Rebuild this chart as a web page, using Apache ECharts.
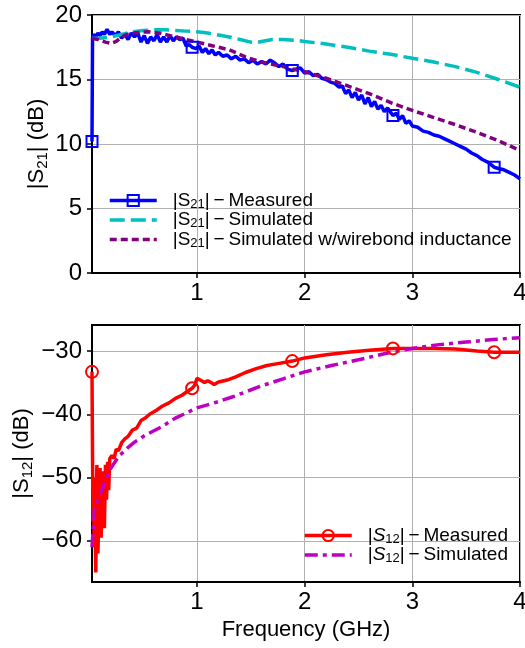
<!DOCTYPE html>
<html><head><meta charset="utf-8">
<script src="https://cdn.jsdelivr.net/npm/echarts@6/dist/echarts.min.js"></script>
<style>html,body{margin:0;padding:0;background:#fff}#c{width:525px;height:648px}</style>
</head><body><div id="c"></div>
<script>
// ---- tick values / labels ----
const xTicks = [1, 2, 3, 4];
const s21Ticks = [0, 5, 10, 15, 20];
const s12Ticks = [-60, -50, -40, -30];
const markerFreqs = [0.025, 0.955, 1.885, 2.82, 3.76];

// ---- |S21| measured [GHz, dB] ----
const s21Measured = [
[0.025,10.2],[0.03,18.2],[0.04,18.5],[0.06,18.3],[0.08,18.6],[0.10,18.4],[0.12,18.7],[0.14,18.5],
[0.165,18.9],[0.19,18.5],[0.21,18.7],[0.24,18.4],[0.27,18.7],[0.30,18.2],[0.33,18.5],[0.36,18.1],
[0.39,18.6],[0.42,18.3],[0.45,18.6],[0.48,17.9],[0.51,18.4],[0.54,17.8],[0.57,18.3],[0.60,18.0],
[0.63,18.5],[0.66,17.9],[0.69,18.3],[0.72,17.9],[0.75,18.4],[0.78,18.0],[0.81,18.3],[0.84,18.1],
[0.87,18.2],[0.90,17.6],[0.93,17.7],[0.955,17.5],[0.99,17.4],[1.02,17.6],[1.05,17.1],[1.08,17.4],
[1.11,17.0],[1.14,17.3],[1.17,16.9],[1.20,17.1],[1.24,16.8],[1.28,16.9],[1.32,16.6],[1.36,16.8],
[1.40,16.5],[1.44,16.6],[1.48,16.3],[1.52,16.5],[1.56,16.2],[1.60,16.4],[1.64,16.2],[1.68,16.5],
[1.72,16.3],[1.76,16.0],[1.80,16.2],[1.84,15.8],[1.885,15.7],[1.92,15.8],[1.96,15.9],[2.00,15.5],
[2.04,15.6],[2.08,15.3],[2.12,15.4],[2.16,15.1],[2.20,15.0],[2.24,14.8],[2.28,14.7],[2.32,14.4],
[2.35,14.5],[2.38,13.9],[2.41,14.2],[2.44,13.6],[2.47,14.0],[2.50,13.4],[2.53,13.8],[2.56,13.1],
[2.59,13.6],[2.62,12.9],[2.65,13.3],[2.68,12.7],[2.71,13.0],[2.74,12.5],[2.77,12.8],[2.82,12.2],
[2.85,12.4],[2.88,11.9],[2.91,12.2],[2.94,11.6],[2.97,11.8],[3.00,11.4],[3.05,11.3],[3.10,11.0],
[3.15,10.9],[3.20,10.7],[3.25,10.6],[3.30,10.4],[3.35,10.2],[3.40,10.0],[3.45,9.8],[3.50,9.6],
[3.55,9.3],[3.60,9.1],[3.65,8.8],[3.70,8.6],[3.76,8.2],[3.80,8.1],[3.85,8.0],[3.90,7.8],
[3.95,7.6],[4.00,7.3]
];
// ---- |S21| simulated ----
const s21Simulated = [
[0.025,18.2],[0.1,18.2],[0.2,18.3],[0.3,18.5],[0.4,18.7],[0.5,18.8],[0.6,18.85],[0.7,18.85],
[0.8,18.8],[0.9,18.75],[1.0,18.7],[1.1,18.6],[1.2,18.45],[1.3,18.3],[1.4,18.1],[1.5,17.9],
[1.55,17.85],[1.6,17.95],[1.7,18.1],[1.8,18.1],[1.9,18.05],[2.0,17.95],[2.2,17.75],[2.4,17.5],
[2.6,17.2],[2.8,16.95],[3.0,16.65],[3.2,16.35],[3.4,16.0],[3.6,15.55],[3.8,15.0],[4.0,14.4]
];
// ---- |S21| simulated w/ wirebond inductance ----
const s21Wirebond = [
[0.025,18.2],[0.08,18.1],[0.15,17.9],[0.2,17.8],[0.25,17.95],[0.3,18.3],[0.35,18.5],[0.45,18.65],
[0.55,18.7],[0.65,18.6],[0.75,18.4],[0.85,18.2],[1.0,17.9],[1.15,17.6],[1.3,17.3],[1.45,16.75],
[1.6,16.35],[1.8,16.0],[2.0,15.6],[2.2,15.1],[2.4,14.5],[2.6,13.9],[2.8,13.2],[3.0,12.6],
[3.2,12.05],[3.4,11.5],[3.6,10.9],[3.8,10.25],[4.0,9.5]
];
// ---- |S12| measured ----
const s12Measured = [
[0.025,-33.3],[0.03,-47],[0.035,-57],[0.04,-50],[0.045,-61],[0.05,-53],[0.06,-65],[0.07,-48],
[0.08,-62],[0.09,-55],[0.10,-48.5],[0.11,-59.5],[0.12,-52],[0.13,-49],[0.14,-58],[0.15,-48],
[0.16,-53.5],[0.17,-47.5],[0.18,-52],[0.19,-47],[0.21,-46.5],[0.23,-47],[0.25,-45.5],[0.27,-45.8],
[0.30,-44.5],[0.33,-43.9],[0.36,-43.5],[0.40,-42.5],[0.44,-42.2],[0.48,-41],[0.52,-40.6],[0.56,-40.0],
[0.62,-39.4],[0.68,-38.7],[0.74,-38.2],[0.80,-37.5],[0.86,-37.0],[0.91,-36.4],[0.955,-35.9],[0.98,-35.4],
[1.0,-34.3],[1.03,-34.6],[1.07,-35.0],[1.10,-34.7],[1.13,-35.0],[1.16,-35.3],[1.20,-34.9],[1.28,-34.6],
[1.36,-34.1],[1.45,-33.4],[1.55,-32.8],[1.65,-32.3],[1.75,-32.0],[1.885,-31.6],[2.0,-31.1],[2.2,-30.6],
[2.4,-30.2],[2.6,-29.9],[2.82,-29.6],[3.0,-29.6],[3.2,-29.6],[3.4,-29.7],[3.6,-30.0],[3.76,-30.2],
[3.9,-30.2],[4.0,-30.2]
];
// ---- |S12| simulated ----
const s12Simulated = [
[0.025,-61],[0.05,-54.6],[0.08,-53.5],[0.11,-52.2],[0.145,-50.7],[0.19,-48.8],[0.27,-46.7],[0.35,-45.4],
[0.42,-44.4],[0.52,-43.3],[0.67,-42],[0.8,-40.6],[1.0,-39.0],[1.2,-38],[1.34,-37.2],[1.585,-35.6],
[1.8,-34.4],[2.0,-33.3],[2.25,-32.3],[2.5,-31.4],[2.75,-30.4],[3.0,-29.6],[3.25,-29.0],[3.5,-28.6],
[3.75,-28.2],[4.0,-27.9]
];

const FONT = 'Liberation Sans';
const names = {
  m21: '|S21| − Measured', s21: '|S21| − Simulated', w21: '|S21| − Simulated w/wirebond inductance',
  m12: '|S12| − Measured', s12: '|S12| − Simulated'
};
const legendRich = {
  p: {width: 11},
  n: {fontFamily: FONT, fontSize: 19, lineHeight: 20, color: '#000'},
  i: {fontFamily: FONT, fontSize: 19, lineHeight: 20, color: '#000', fontStyle: 'italic'},
  s: {fontFamily: FONT, fontSize: 13, lineHeight: 10, verticalAlign: 'bottom', color: '#000'}
};
function legendFmt(name) {
  if (name === names.m21) return '{p|}{n||S}{s|21}{n||\u2009−\u2009Measured}';
  if (name === names.s21) return '{p|}{n||S}{s|21}{n||\u2009−\u2009Simulated}';
  if (name === names.w21) return '{p|}{n||S}{s|21}{n||\u2009−\u2009Simulated w/wirebond inductance}';
  if (name === names.m12) return '{p|}{n||}{i|S}{s|12}{n||\u2009−\u2009Measured}';
  return '{p|}{n||}{i|S}{s|12}{n||\u2009−\u2009Simulated}';
}
function withMarkers(data) {
  return data.map(d => markerFreqs.includes(d[0]) ? {value: d} : {value: d, symbol: 'none'});
}
const minus = v => String(v).replace('-', '\u2212');
const axisLineStyle = {color: '#000', width: 2};
const gridLine = {show: true, lineStyle: {color: '#b0b0b0', width: 1}};
function xAxis(gi, withName) {
  const ax = {
    type: 'value', gridIndex: gi, min: 0.025, max: 4,
    axisLine: {show: true, onZero: false, lineStyle: axisLineStyle},
    axisTick: {show: true, customValues: xTicks, length: 5, lineStyle: {color: '#000', width: 1.5}},
    axisLabel: {customValues: xTicks, fontSize: 24, fontFamily: FONT, color: '#000', margin: 8, showMaxLabel: true, showMinLabel: true},
    splitLine: gridLine
  };
  if (withName) {
    ax.name = 'Frequency (GHz)'; ax.nameLocation = 'middle'; ax.nameGap = 37; ax.nameMoveOverlap = false;
    ax.nameTextStyle = {fontFamily: FONT, fontSize: 22, color: '#000'};
  }
  return ax;
}
const yNameRich = {
  n: {fontFamily: FONT, fontSize: 22, lineHeight: 26, color: '#000'},
  s: {fontFamily: FONT, fontSize: 15, lineHeight: 14, verticalAlign: 'bottom', color: '#000'}
};
const option = {
  animation: false,
  backgroundColor: '#fff',
  grid: [
    {left: 92, top: 15, width: 428, height: 258, show: true, borderColor: '#000', borderWidth: 2, backgroundColor: 'transparent', outerBoundsMode: 'none', containLabel: false},
    {left: 92, top: 325, width: 428, height: 257, show: true, borderColor: '#000', borderWidth: 2, backgroundColor: 'transparent', outerBoundsMode: 'none', containLabel: false}
  ],
  xAxis: [xAxis(0, false), xAxis(1, true)],
  yAxis: [
    {type: 'value', gridIndex: 0, min: 0, max: 20, interval: 5,
     axisLine: {show: true, onZero: false, lineStyle: axisLineStyle},
     axisTick: {show: true, length: 5, lineStyle: {color: '#000', width: 1.5}},
     axisLabel: {fontSize: 24, fontFamily: FONT, color: '#000', margin: 10, showMaxLabel: true, showMinLabel: true},
     splitLine: gridLine,
     name: '{n||S}{s|21}{n|| (dB)}', nameLocation: 'middle', nameGap: 42, nameRotate: 90, nameMoveOverlap: false,
     nameTextStyle: {rich: yNameRich, fontFamily: FONT, fontSize: 22, color: '#000'}},
    {type: 'value', gridIndex: 1, min: -66.5, max: -25.9,
     axisLine: {show: true, onZero: false, lineStyle: axisLineStyle},
     axisTick: {show: true, customValues: s12Ticks, length: 5, lineStyle: {color: '#000', width: 1.5}},
     axisLabel: {customValues: s12Ticks, formatter: minus, fontSize: 24, fontFamily: FONT, color: '#000', margin: 10},
     splitLine: gridLine,
     name: '{n||S}{s|12}{n|| (dB)}', nameLocation: 'middle', nameGap: 57, nameRotate: 90, nameMoveOverlap: false,
     nameTextStyle: {rich: yNameRich, fontFamily: FONT, fontSize: 22, color: '#000'}}
  ],
  legend: [
    {left: 108, top: 191, orient: 'vertical', itemWidth: 47, itemHeight: 14, itemGap: 0, padding: 0,
     formatter: legendFmt, textStyle: {rich: legendRich, fontSize: 19, fontFamily: FONT, color: '#000'},
     selectedMode: false,
     data: [
       {name: names.m21, itemStyle: {color: 'rgba(0,0,0,0)', borderColor: '#0000ff', borderWidth: 2}, lineStyle: {color: '#0000ff', width: 3.5, type: 'solid'}},
       {name: names.s21, itemStyle: {color: 'rgba(0,0,0,0)', borderWidth: 0}, lineStyle: {color: '#00bfbf', width: 3.5, type: [15, 6]}},
       {name: names.w21, itemStyle: {color: 'rgba(0,0,0,0)', borderWidth: 0}, lineStyle: {color: '#800080', width: 3.5, type: [7, 4]}}
     ]},
    {left: 303, top: 526, orient: 'vertical', itemWidth: 47, itemHeight: 14, itemGap: 0, padding: 0,
     formatter: legendFmt, textStyle: {rich: legendRich, fontSize: 19, fontFamily: FONT, color: '#000'},
     selectedMode: false,
     data: [
       {name: names.m12, itemStyle: {color: 'rgba(0,0,0,0)', borderColor: '#ff0000', borderWidth: 2}, lineStyle: {color: '#ff0000', width: 3.5, type: 'solid'}},
       {name: names.s12, itemStyle: {color: 'rgba(0,0,0,0)', borderWidth: 0}, lineStyle: {color: '#bf00bf', width: 3.5, type: [13, 5, 4, 5]}}
     ]}
  ],
  series: [
    {name: names.m21, type: 'line', xAxisIndex: 0, yAxisIndex: 0, data: withMarkers(s21Measured),
     symbol: 'rect', symbolSize: 11, showAllSymbol: true,
     itemStyle: {color: 'rgba(0,0,0,0)', borderColor: '#0000ff', borderWidth: 2},
     lineStyle: {color: '#0000ff', width: 3.5}},
    {name: names.s21, type: 'line', xAxisIndex: 0, yAxisIndex: 0, data: s21Simulated, symbol: 'none',
     itemStyle: {color: '#00bfbf'}, lineStyle: {color: '#00bfbf', width: 3.5, type: [15, 6], cap: 'butt'}},
    {name: names.w21, type: 'line', xAxisIndex: 0, yAxisIndex: 0, data: s21Wirebond, symbol: 'none',
     itemStyle: {color: '#800080'}, lineStyle: {color: '#800080', width: 3.5, type: [7, 4], cap: 'butt'}},
    {name: names.m12, type: 'line', xAxisIndex: 1, yAxisIndex: 1, data: withMarkers(s12Measured),
     symbol: 'circle', symbolSize: 12, showAllSymbol: true,
     itemStyle: {color: 'rgba(0,0,0,0)', borderColor: '#ff0000', borderWidth: 2},
     lineStyle: {color: '#ff0000', width: 3.5}},
    {name: names.s12, type: 'line', xAxisIndex: 1, yAxisIndex: 1, data: s12Simulated, symbol: 'none',
     itemStyle: {color: '#bf00bf'}, lineStyle: {color: '#bf00bf', width: 3.5, type: [13, 5, 4, 5], cap: 'butt'}}
  ]
};
const chart = echarts.init(document.getElementById('c'), null, {renderer: 'canvas'});
chart.setOption(option);
</script>
</body></html>
